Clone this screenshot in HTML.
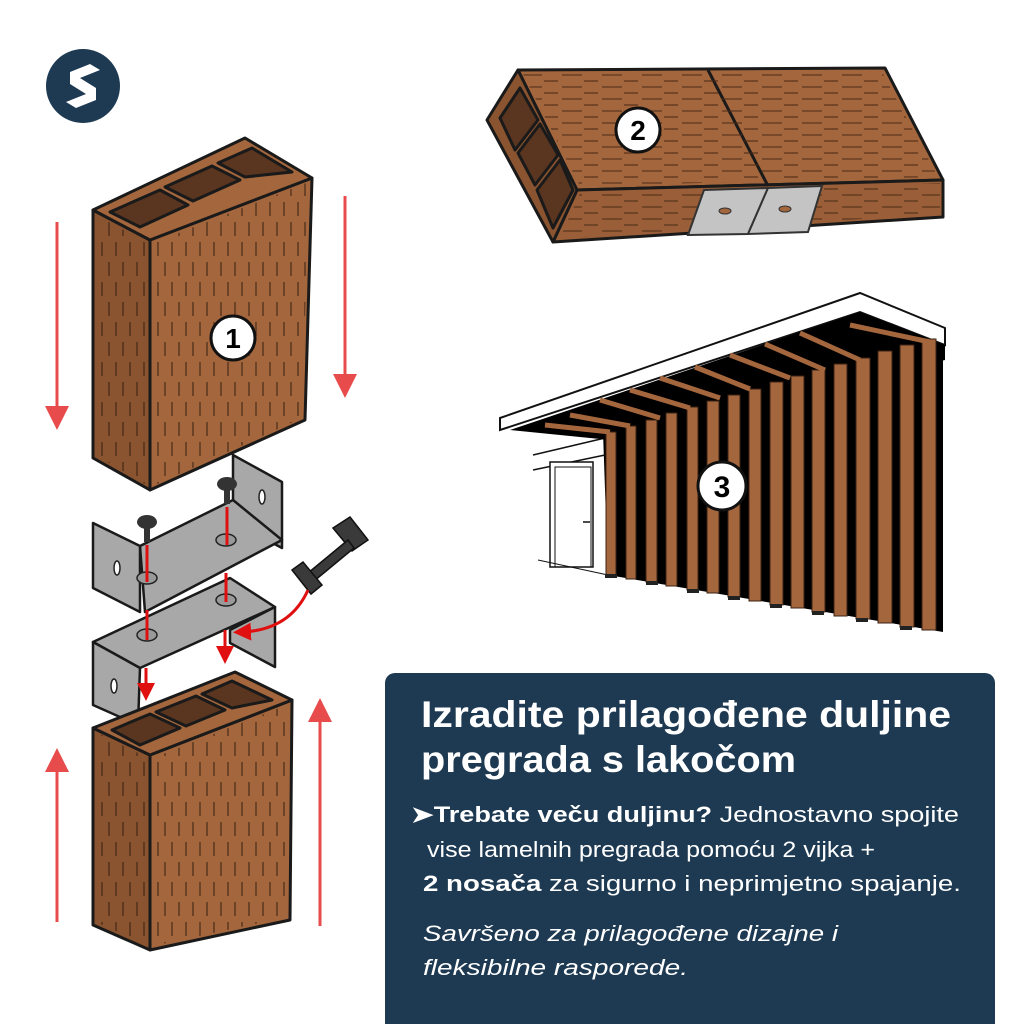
<!DOCTYPE html>
<html><head><meta charset="utf-8"><style>
html,body{margin:0;padding:0;background:#fff}
svg{display:block}
text{font-family:"Liberation Sans",sans-serif}
</style></head><body>
<svg width="1024" height="1024" viewBox="0 0 1024 1024" xmlns="http://www.w3.org/2000/svg">
<defs>
<marker id="ah" markerWidth="8" markerHeight="8" refX="4" refY="4" orient="auto"><path d="M0,0 L8,4 L0,8 Z" fill="#e84b4b"/></marker>
<marker id="ah2" markerWidth="6" markerHeight="6" refX="3" refY="3" orient="auto"><path d="M0,0 L6,3 L0,6 Z" fill="#e01010"/></marker>
<pattern id="vg" width="14" height="40" patternUnits="userSpaceOnUse"><line x1="4" y1="2" x2="4" y2="16" stroke="#3a2212" stroke-width="1.3"/><line x1="11" y1="22" x2="11" y2="36" stroke="#3a2212" stroke-width="1.3"/></pattern>
<pattern id="hg" width="40" height="12" patternUnits="userSpaceOnUse"><line x1="2" y1="3" x2="22" y2="3" stroke="#4a2a15" stroke-width="1.3"/><line x1="24" y1="9" x2="38" y2="9" stroke="#4a2a15" stroke-width="1.3"/></pattern>
</defs>
<rect width="1024" height="1024" fill="#fff"/>
<!-- logo -->
<circle cx="83" cy="86" r="37" fill="#1e3a52"/>
<path d="M70,72 L90,64 L100,70 L80,78 L96,88 L96,100 L76,108 L66,102 L86,94 L70,84 Z" fill="#fff"/>

<!-- red arrows -->
<g stroke="#e84b4b" stroke-width="3" fill="none">
<line x1="57" y1="222" x2="57" y2="418" marker-end="url(#ah)"/>
<line x1="345" y1="196" x2="345" y2="386" marker-end="url(#ah)"/>
<line x1="57" y1="922" x2="57" y2="760" marker-end="url(#ah)"/>
<line x1="320" y1="926" x2="320" y2="710" marker-end="url(#ah)"/>
</g>

<!-- block 1 -->
<g stroke="#1a1a1a" stroke-width="3" stroke-linejoin="round">
<polygon points="93,210 150,240 150,490 93,458" fill="#8a5430"/>
<polygon points="150,240 312,178 305,420 150,490" fill="#a4663d"/>
<polygon points="93,210 245,138 312,178 150,240" fill="#a4663d"/>
<polygon points="110,212 160,190 188,205 140,227" fill="#5a3520"/>
<polygon points="165,187 212,166 240,180 193,201" fill="#5a3520"/>
<polygon points="218,163 252,148 292,172 245,177" fill="#5a3520"/>
</g>
<polygon points="96,215 148,243 148,486 96,455" fill="url(#vg)" opacity="0.8"/>
<polygon points="153,243 309,182 302,418 153,486" fill="url(#vg)" opacity="0.8"/>
<circle cx="233" cy="338" r="22" fill="#fff" stroke="#111" stroke-width="3"/>
<text x="233" y="348" font-size="28" font-weight="bold" text-anchor="middle">1</text>

<!-- brackets -->
<g stroke="#1a1a1a" stroke-width="2.5" stroke-linejoin="round" fill="#a8a8a8">
<polygon points="233,455 282,482 282,548 233,522"/>
<polygon points="140,546 233,500 282,540 145,612"/>
<polygon points="93,523 140,546 140,612 93,588"/>
<polygon points="93,642 230,578 275,607 140,668"/>
<polygon points="230,630 275,607 275,667 230,643"/>
<polygon points="93,642 140,668 138,725 93,705"/>
</g>
<g fill="#fff" stroke="#222" stroke-width="1.5"><ellipse cx="117" cy="568" rx="3" ry="7"/><ellipse cx="262" cy="497" rx="3" ry="7"/><ellipse cx="114" cy="686" rx="3" ry="7"/></g>
<g fill="#999" stroke="#222" stroke-width="1.5"><ellipse cx="147" cy="578" rx="10" ry="6"/><ellipse cx="226" cy="540" rx="10" ry="6"/><ellipse cx="226" cy="600" rx="10" ry="6"/><ellipse cx="147" cy="635" rx="10" ry="6"/></g>
<g fill="#333"><ellipse cx="147" cy="522" rx="10" ry="7"/><rect x="144" y="522" width="6" height="20"/><ellipse cx="227" cy="484" rx="10" ry="7"/><rect x="224" y="484" width="6" height="20"/></g>
<!-- bolt -->
<g fill="#3a3a3a" stroke="#111" stroke-width="1.5">
<polygon points="333,528 350,517 368,540 352,551"/>
<polygon points="302,578 348,540 354,548 308,586"/>
<polygon points="292,570 303,562 322,585 311,594"/>
</g>
<g stroke="#e01010" stroke-width="3" fill="none">
<line x1="147" y1="545" x2="147" y2="582"/><line x1="227" y1="507" x2="227" y2="545"/><line x1="226" y1="573" x2="226" y2="602"/><line x1="147" y1="610" x2="147" y2="640"/>
<line x1="146" y1="668" x2="146" y2="692" marker-end="url(#ah2)"/><line x1="225" y1="630" x2="225" y2="655" marker-end="url(#ah2)"/>
<path d="M308,590 Q290,630 242,632" marker-end="url(#ah2)"/>
</g>

<!-- block bottom -->
<g stroke="#1a1a1a" stroke-width="3" stroke-linejoin="round">
<polygon points="93,728 150,755 150,950 93,925" fill="#8a5430"/>
<polygon points="150,755 292,700 290,920 150,950" fill="#a4663d"/>
<polygon points="93,728 235,672 292,700 150,755" fill="#a4663d"/>
<polygon points="112,730 150,714 180,728 140,745" fill="#5a3520"/>
<polygon points="156,712 196,696 225,710 186,726" fill="#5a3520"/>
<polygon points="202,694 232,681 272,700 232,708" fill="#5a3520"/>
</g>
<polygon points="96,732 148,758 148,946 96,922" fill="url(#vg)" opacity="0.8"/>
<polygon points="153,758 289,704 287,917 153,946" fill="url(#vg)" opacity="0.8"/>

<!-- beam 2 -->
<g stroke="#1a1a1a" stroke-width="3" stroke-linejoin="round">
<polygon points="518,70 885,68 943,180 577,190" fill="#a4663d"/>
<polygon points="577,190 943,180 943,217 553,242" fill="#9a5f38"/>
<polygon points="518,70 577,190 553,242 487,120" fill="#8a5430"/>
<polygon points="500,118 520,88 538,120 515,150" fill="#5a3520"/>
<polygon points="518,153 540,124 558,155 535,185" fill="#5a3520"/>
<polygon points="537,190 560,160 573,190 553,228" fill="#5a3520"/>
<line x1="708" y1="70" x2="768" y2="186"/>
</g>
<polygon points="523,74 882,72 938,177 580,186" fill="url(#hg)" opacity="0.8"/>
<polygon points="580,193 940,183 940,214 560,238" fill="url(#hg)" opacity="0.8"/>
<g stroke="#333" stroke-width="2" fill="#c4c4c4"><polygon points="704,190 768,188 748,234 688,235"/><polygon points="768,188 822,186 808,232 748,234"/></g>
<g fill="#a4663d" stroke="#333"><ellipse cx="725" cy="211" rx="6" ry="3"/><ellipse cx="785" cy="209" rx="6" ry="3"/></g>
<circle cx="638" cy="130" r="22" fill="#fff" stroke="#111" stroke-width="3"/>
<text x="638" y="140" font-size="28" font-weight="bold" text-anchor="middle">2</text>

<!-- scene 3 -->
<polygon points="603,432 860,312 943,338 943,632 608,575" fill="#000"/>
<path d="M533,455 L605,438 M533,470 L605,455" stroke="#111" stroke-width="1.5" fill="none"/>
<rect x="550" y="462" width="43" height="105" fill="#fff" stroke="#111" stroke-width="1.5"/>
<rect x="555" y="467" width="36" height="100" fill="none" stroke="#111" stroke-width="1"/>
<line x1="583" y1="522" x2="590" y2="522" stroke="#111" stroke-width="1.5"/>
<line x1="538" y1="560" x2="608" y2="575" stroke="#111" stroke-width="1"/>
<polygon points="500,418 860,293 945,328 945,345 860,312 500,430" fill="#fff" stroke="#111" stroke-width="2"/>
<polygon points="510,430 860,312 945,345 945,360 610,440" fill="#000"/>
<g fill="#a4663d" stroke="#3a2212" stroke-width="1">
<rect x="606" y="432" width="10" height="143"/><rect x="626" y="426" width="10" height="153"/><rect x="646" y="420" width="11" height="162"/><rect x="666" y="413" width="11" height="173"/><rect x="687" y="407" width="11" height="183"/><rect x="707" y="401" width="12" height="192"/><rect x="728" y="395" width="12" height="202"/><rect x="749" y="389" width="12" height="212"/><rect x="770" y="382" width="13" height="223"/><rect x="791" y="376" width="13" height="232"/><rect x="812" y="370" width="13" height="242"/><rect x="834" y="364" width="13" height="252"/><rect x="856" y="358" width="14" height="261"/><rect x="878" y="351" width="14" height="272"/><rect x="900" y="345" width="14" height="282"/><rect x="922" y="339" width="14" height="291"/>
</g>
<g stroke="#a4663d" stroke-width="5">
<line x1="545" y1="425" x2="610" y2="432"/><line x1="570" y1="415" x2="630" y2="426"/><line x1="600" y1="400" x2="660" y2="418"/><line x1="630" y1="390" x2="690" y2="408"/><line x1="660" y1="378" x2="720" y2="398"/><line x1="695" y1="367" x2="750" y2="389"/><line x1="730" y1="355" x2="790" y2="378"/><line x1="765" y1="344" x2="825" y2="370"/><line x1="800" y1="333" x2="860" y2="360"/><line x1="850" y1="325" x2="930" y2="342"/>
</g>
<g fill="#222"><rect x="605" y="574" width="12" height="4"/><rect x="646" y="581" width="12" height="4"/><rect x="687" y="589" width="12" height="4"/><rect x="728" y="596" width="12" height="4"/><rect x="770" y="604" width="12" height="4"/><rect x="812" y="611" width="12" height="4"/><rect x="856" y="618" width="12" height="4"/><rect x="900" y="626" width="12" height="4"/></g>
<circle cx="722" cy="486" r="24" fill="#fff" stroke="#111" stroke-width="3"/>
<text x="722" y="497" font-size="30" font-weight="bold" text-anchor="middle">3</text>

<!-- text panel -->
<rect x="385" y="673" width="610" height="370" rx="10" fill="#1e3a52"/>
<g fill="#fff">
<text x="421" y="727" font-size="37" font-weight="bold" textLength="530" lengthAdjust="spacingAndGlyphs">Izradite prilagođene duljine</text>
<text x="421" y="772" font-size="37" font-weight="bold" textLength="375" lengthAdjust="spacingAndGlyphs">pregrada s lakočom</text>
<text x="411" y="822" font-size="22" textLength="548" lengthAdjust="spacingAndGlyphs"><tspan font-weight="bold">➤Trebate veču duljinu?</tspan> Jednostavno spojite</text>
<text x="427" y="857" font-size="22" textLength="448" lengthAdjust="spacingAndGlyphs">vise lamelnih pregrada pomoću 2 vijka +</text>
<text x="423" y="891" font-size="22" textLength="538" lengthAdjust="spacingAndGlyphs"><tspan font-weight="bold">2 nosača</tspan> za sigurno i neprimjetno spajanje.</text>
<text x="423" y="941" font-size="22" font-style="italic" textLength="415" lengthAdjust="spacingAndGlyphs">Savršeno za prilagođene dizajne i</text>
<text x="423" y="975" font-size="22" font-style="italic" textLength="265" lengthAdjust="spacingAndGlyphs">fleksibilne rasporede.</text>
</g>
</svg>
</body></html>
